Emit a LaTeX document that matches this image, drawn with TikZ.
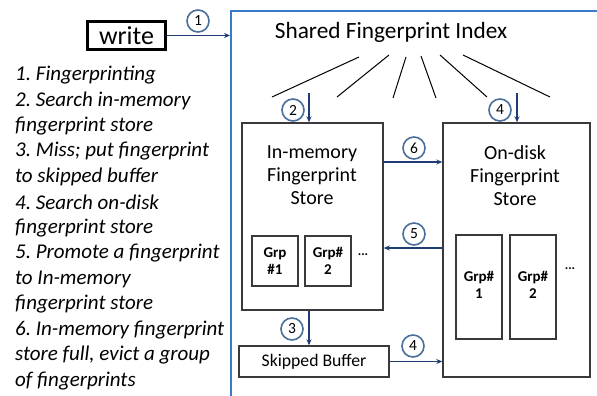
\documentclass[tikz,border=0pt]{standalone}
\usepackage{fontspec}
\setmainfont{Carlito}
\usetikzlibrary{arrows.meta}
\definecolor{navy}{HTML}{1F3C75}
\definecolor{frameblue}{HTML}{3B7BCB}
\definecolor{circblue}{HTML}{4A6F9A}
\definecolor{boxgray}{HTML}{3A3A3A}
\frenchspacing
\begin{document}
\begin{tikzpicture}[x=1pt,y=-1pt,
  box/.style={draw=boxgray,line width=1.4pt},
  grp/.style={draw=boxgray,line width=1.2pt},
  flow/.style={draw=navy,line width=1.4pt,-{Stealth[length=6pt,width=5pt]}},
  num/.style={circle,draw=circblue,line width=1.6pt,minimum size=22pt,inner sep=0pt,font=\fontsize{15.5}{15.5}\selectfont},
  lbl/.style={align=center,font=\fontsize{20}{23}\selectfont},
  grplbl/.style={align=center,font=\bfseries\fontsize{15}{17.5}\selectfont},
  item/.style={anchor=west,font=\itshape\fontsize{21}{22}\selectfont,inner sep=0pt},
  fan/.style={draw=black,line width=1pt}]
\useasboundingbox (0,0) rectangle (597,396);
\fill[white] (0,0) rectangle (597,396);
% outer frame
\draw[frameblue,line width=1.6pt] (597,11) -- (231,11) -- (231,397);
% write box
\node[draw=black,line width=2.2pt,minimum width=78pt,minimum height=28pt,inner sep=0pt,font=\fontsize{26}{26}\selectfont] (write) at (126.5,35.5) {write};
\coordinate (frameL) at (230,35.5);
\draw[flow] (write.east) -- (frameL);
\node[num] (c1) at (198,21) {1};
% title
\node[font=\fontsize{23.3}{23.3}\selectfont] (title) at (391,32) {Shared Fingerprint Index};
% fan lines
\draw[fan] (359,57) -- (272,97);
\draw[fan] (389,55) -- (337,97);
\draw[fan] (406,57) -- (393,98);
\draw[fan] (421,56) -- (436,98);
\draw[fan] (440,55) -- (487,97);
\draw[fan] (463,55) -- (550,97);
% in-memory store
\node[box,minimum width=141pt,minimum height=187pt,inner sep=0pt] (mem) at (312.5,216.5) {};
\node[lbl] (memlbl) at (312,175) {In-memory\\Fingerprint\\Store};
\node[grp,minimum width=46pt,minimum height=50pt,inner sep=0pt] (g1) at (275,261) {};
\node[grplbl] at (g1) {Grp\\\#1};
\node[grp,minimum width=46pt,minimum height=50pt,inner sep=0pt] (g2) at (328,261) {};
\node[grplbl] at (g2) {Grp\#\\2};
\node[font=\bfseries\fontsize{13}{13}\selectfont] (dots1) at (363,255) {...};
% on-disk store
\node[box,minimum width=147pt,minimum height=254pt,inner sep=0pt] (disk) at (516.5,250) {};
\node[lbl] (disklbl) at (515,176) {On-disk\\Fingerprint\\Store};
\node[grp,minimum width=46pt,minimum height=104pt,inner sep=0pt] (d1) at (479,287) {};
\node[grplbl] at (479,285) {Grp\#\\1};
\node[grp,minimum width=46pt,minimum height=104pt,inner sep=0pt] (d2) at (533,287) {};
\node[grplbl] at (533,285) {Grp\#\\2};
\node[font=\bfseries\fontsize{13}{13}\selectfont] (dots2) at (570,269) {...};
% skipped buffer
\node[box,minimum width=150pt,minimum height=31pt,inner sep=0pt,font=\fontsize{17.7}{17.7}\selectfont] (skip) at (314,361.5) {Skipped Buffer};
% arrows
\coordinate (a2s) at (309,93);
\draw[flow] (a2s) -- (mem.north -| a2s);
\node[num] (c2) at (293,110) {2};
\coordinate (a4s) at (517,93);
\draw[flow] (a4s) -- (disk.north -| a4s);
\node[num] (c4a) at (500,110) {4};
\coordinate (y6) at (0,162);
\draw[flow] (mem.east |- y6) -- (disk.west |- y6);
\node[num] (c6) at (414,148) {6};
\coordinate (y5) at (0,248);
\draw[flow] (disk.west |- y5) -- (mem.east |- y5);
\node[num] (c5) at (414,234) {5};
\draw[flow] (mem.south -| a2s) -- (skip.north -| a2s);
\node[num] (c3) at (292,329) {3};
\draw[flow] (skip.east) -- (disk.west |- skip.east);
\node[num] (c4b) at (413,346) {4};
% list
\node[item] (l1) at (15,75) {1. Fingerprinting};
\node[item] (l2) at (15,100.5) {2. Search in-memory};
\node[item] (l3) at (15,126) {fingerprint store};
\node[item] (l4) at (15,151.5) {3. Miss; put fingerprint};
\node[item] (l5) at (15,177) {to skipped buffer};
\node[item] (l6) at (15,202.5) {4. Search on-disk};
\node[item] (l7) at (15,228) {fingerprint store};
\node[item] (l8) at (15,253.5) {5. Promote a fingerprint};
\node[item] (l9) at (15,279) {to In-memory};
\node[item] (l10) at (15,304.5) {fingerprint store};
\node[item] (l11) at (15,330) {6. In-memory fingerprint};
\node[item] (l12) at (15,355.5) {store full, evict a group};
\node[item] (l13) at (15,381) {of fingerprints};
\end{tikzpicture}
\end{document}
